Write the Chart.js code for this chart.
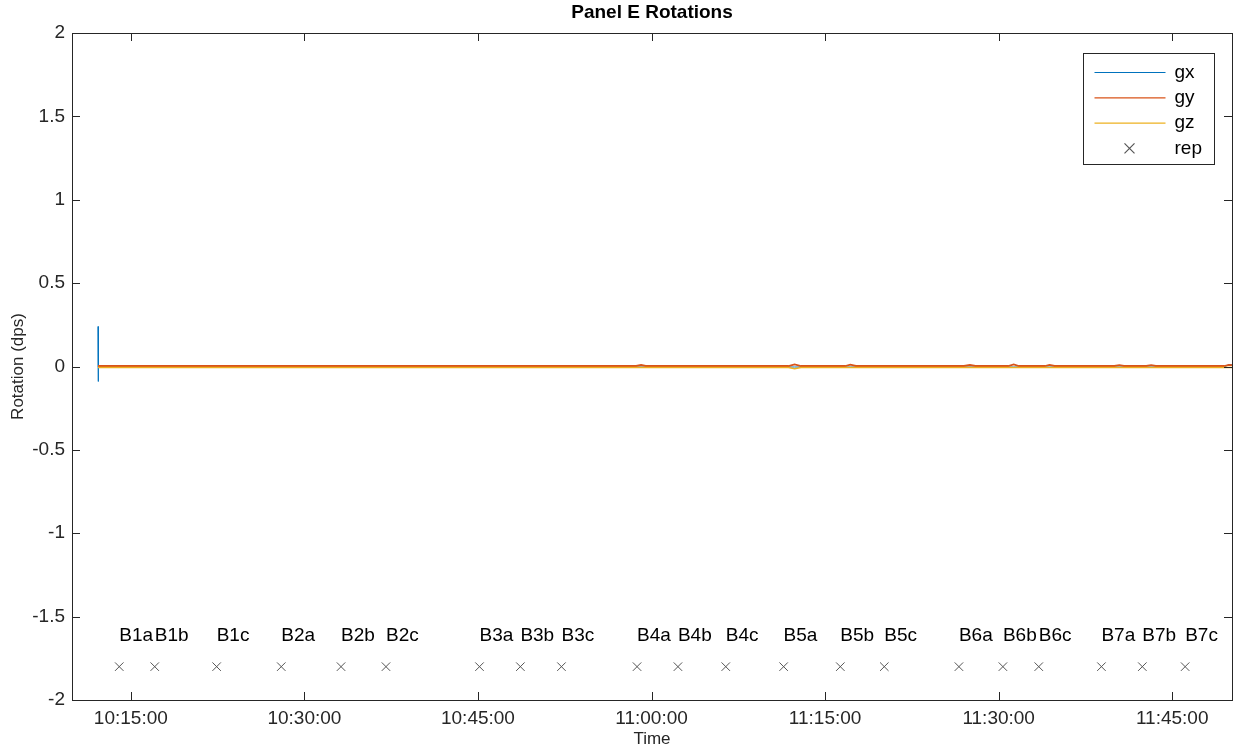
<!DOCTYPE html>
<html>
<head>
<meta charset="utf-8">
<title>Panel E Rotations</title>
<script src="https://cdn.jsdelivr.net/npm/chart.js@4.4.1/dist/chart.umd.min.js"></script>
<style>
  html, body { margin: 0; padding: 0; background: #fff; }
  canvas { display: block; }
</style>
</head>
<body>
<canvas id="rotations" width="1239" height="750"></canvas>
<script>
// gyro samples, clock time
const sampleTimes = [
  '10:12:10', '10:12:11', '10:12:12', '10:30:00', '10:50:00', '10:58:40', '10:59:06', '10:59:30',
  '11:11:50', '11:12:22', '11:12:55', '11:16:45', '11:17:11', '11:17:40', '11:27:00', '11:27:31',
  '11:28:00', '11:30:50', '11:31:18', '11:31:45', '11:34:00', '11:34:24', '11:34:50', '11:40:00',
  '11:40:26', '11:40:50', '11:42:45', '11:43:11', '11:43:35', '11:49:30', '11:49:54', '11:50:10'
];
const gx = [
  0.24, -0.09, -0.003, -0.003, -0.003, -0.003, -0.003, -0.003,
  -0.003, -0.003, -0.003, -0.003, -0.003, -0.003, -0.003, -0.003,
  -0.003, -0.003, -0.003, -0.003, -0.003, -0.003, -0.003, -0.003,
  -0.003, -0.003, -0.003, -0.003, -0.003, -0.003, 0.012, 0.01
];
const gy = [
  0.003, 0.003, 0.003, 0.003, 0.003, 0.003, 0.009, 0.003,
  0.003, 0.013, 0.003, 0.003, 0.011, 0.003, 0.003, 0.009,
  0.003, 0.003, 0.012, 0.003, 0.003, 0.01, 0.003, 0.003,
  0.008, 0.003, 0.003, 0.008, 0.003, 0.003, 0.01, 0.008
];
const gz = [
  -0.006, -0.006, -0.006, -0.006, -0.006, -0.006, -0.006, -0.006,
  -0.006, -0.013, -0.006, -0.006, -0.006, -0.006, -0.006, -0.006,
  -0.006, -0.006, -0.006, -0.006, -0.006, -0.006, -0.006, -0.006,
  -0.006, -0.006, -0.006, -0.006, -0.006, -0.006, -0.006, -0.006
];

// repetition marks
const repLabels = [
  'B1a', 'B1b', 'B1c', 'B2a', 'B2b', 'B2c', 'B3a', 'B3b', 'B3c', 'B4a', 'B4b',
  'B4c', 'B5a', 'B5b', 'B5c', 'B6a', 'B6b', 'B6c', 'B7a', 'B7b', 'B7c'
];
const repTimes = [
  '10:14:00', '10:17:04', '10:22:25', '10:28:00', '10:33:10', '10:37:03', '10:45:08',
  '10:48:40', '10:52:13', '10:58:45', '11:02:17', '11:06:25', '11:11:25', '11:16:19',
  '11:20:07', '11:26:34', '11:30:22', '11:33:28', '11:38:53', '11:42:25', '11:46:07'
];
const repLevel = -1.8;
const repTextLevel = -1.6;

const timeTicks = ['10:15:00', '10:30:00', '10:45:00', '11:00:00', '11:15:00', '11:30:00', '11:45:00'];
const rotationTicks = [-2, -1.5, -1, -0.5, 0, 0.5, 1, 1.5, 2];
const timeStart = '10:09:55';
const timeEnd = '11:50:10';

const FONT = "'Liberation Sans', Arial, Helvetica, sans-serif";
const INK = '#262626';
const colors = { gx: '#0072BD', gy: '#D95319', gz: '#EDB120', rep: '#555555' };

function toSec(s) {
  const [h, m, sec] = s.split(':').map(Number);
  return h * 3600 + m * 60 + sec;
}
function fmtTime(v) {
  const pad = n => String(n).padStart(2, '0');
  return pad(Math.floor(v / 3600)) + ':' + pad(Math.floor(v % 3600 / 60)) + ':' + pad(Math.round(v % 60));
}
const series = vals => sampleTimes.map((t, i) => ({ x: toSec(t), y: vals[i] }));

// box with inward ticks on all four sides
const boxAxes = {
  id: 'boxAxes',
  afterDraw(chart) {
    const { ctx, chartArea: a, scales: { x, y } } = chart;
    const len = 8;
    ctx.save();
    ctx.strokeStyle = INK;
    ctx.lineWidth = 1;
    ctx.beginPath();
    x.ticks.forEach(t => {
      const px = Math.round(x.getPixelForValue(t.value)) + 0.5;
      ctx.moveTo(px, a.bottom); ctx.lineTo(px, a.bottom - len);
      ctx.moveTo(px, a.top); ctx.lineTo(px, a.top + len);
    });
    y.ticks.forEach(t => {
      const py = Math.round(y.getPixelForValue(t.value)) + 0.5;
      ctx.moveTo(a.left, py); ctx.lineTo(a.left + len, py);
      ctx.moveTo(a.right, py); ctx.lineTo(a.right - len, py);
    });
    ctx.stroke();
    ctx.strokeRect(Math.round(a.left) + 0.5, Math.round(a.top) + 0.5,
      Math.round(a.right - a.left), Math.round(a.bottom - a.top));
    ctx.restore();
  }
};

// rep names written to the right of each mark
const repNames = {
  id: 'repNames',
  afterDatasetsDraw(chart) {
    const { ctx, scales: { x, y } } = chart;
    ctx.save();
    ctx.font = '19px ' + FONT;
    ctx.fillStyle = '#000';
    ctx.textAlign = 'left';
    ctx.textBaseline = 'middle';
    repLabels.forEach((name, i) => {
      ctx.fillText(name, x.getPixelForValue(toSec(repTimes[i])), y.getPixelForValue(repTextLevel) + 2);
    });
    ctx.restore();
  }
};

// title and legend box
const decorations = {
  id: 'decorations',
  afterDraw(chart) {
    const { ctx, chartArea: a } = chart;
    ctx.save();
    ctx.fillStyle = '#000';
    ctx.font = 'bold 19px ' + FONT;
    ctx.textAlign = 'center';
    ctx.textBaseline = 'alphabetic';
    ctx.fillText('Panel E Rotations', (a.left + a.right) / 2, 18);

    const bw = 131, bh = 111;
    const bx = Math.round(a.right - 18 - bw) + 0.5, by = Math.round(a.top + 20) + 0.5;
    ctx.fillStyle = '#fff';
    ctx.fillRect(bx, by, bw, bh);
    ctx.strokeStyle = INK;
    ctx.lineWidth = 1;
    ctx.strokeRect(bx, by, bw, bh);

    ctx.font = '19px ' + FONT;
    ctx.textAlign = 'left';
    ctx.textBaseline = 'middle';
    chart.data.datasets.forEach((ds, i) => {
      const ry = by + 19 + i * 25.3;
      ctx.strokeStyle = ds.borderColor;
      ctx.lineWidth = 1.2;
      ctx.beginPath();
      if (ds.showLine === false) {
        const cx = bx + 46, r = 5;
        ctx.moveTo(cx - r, ry - r); ctx.lineTo(cx + r, ry + r);
        ctx.moveTo(cx + r, ry - r); ctx.lineTo(cx - r, ry + r);
      } else {
        ctx.moveTo(bx + 11, ry); ctx.lineTo(bx + 82, ry);
      }
      ctx.stroke();
      ctx.fillStyle = '#000';
      ctx.fillText(ds.label, bx + 91, ry);
    });
    ctx.restore();
  }
};

const lineSet = (label, vals, color, order, width) => ({
  label, data: series(vals), borderColor: color, backgroundColor: color,
  borderWidth: width, pointRadius: 0, tension: 0, order
});

new Chart(document.getElementById('rotations'), {
  type: 'line',
  data: {
    datasets: [
      lineSet('gx', gx, colors.gx, 3, 1),
      lineSet('gy', gy, colors.gy, 2, 1.8),
      lineSet('gz', gz, colors.gz, 1, 1.5),
      {
        label: 'rep',
        data: repTimes.map(t => ({ x: toSec(t), y: repLevel })),
        showLine: false,
        pointStyle: 'crossRot',
        pointRadius: 6,
        borderWidth: 1,
        borderColor: colors.rep,
        backgroundColor: colors.rep,
        order: 0
      }
    ]
  },
  options: {
    responsive: false,
    animation: false,
    layout: { padding: { top: 33, right: 3, left: 0, bottom: 0 } },
    plugins: { legend: { display: false }, tooltip: { enabled: false }, title: { display: false } },
    scales: {
      x: {
        type: 'linear',
        min: toSec(timeStart),
        max: toSec(timeEnd),
        afterBuildTicks: s => { s.ticks = timeTicks.map(t => ({ value: toSec(t) })); },
        afterFit: s => { s.height = 50; s.paddingLeft = 0; s.paddingRight = 0; },
        grid: { display: false, drawTicks: false },
        border: { display: false },
        ticks: {
          padding: 7, maxRotation: 0, autoSkip: false, color: INK,
          font: { size: 19, family: FONT },
          callback: v => fmtTime(v)
        },
        title: {
          display: true, text: 'Time', color: INK,
          font: { size: 17, family: FONT }, padding: { top: 0, bottom: 0 }
        }
      },
      y: {
        min: -2,
        max: 2,
        afterBuildTicks: s => { s.ticks = rotationTicks.map(v => ({ value: v })); },
        afterFit: s => { s.width = 72; },
        grid: { display: false, drawTicks: false },
        border: { display: false },
        ticks: {
          padding: 7, color: INK,
          font: { size: 19, family: FONT },
          callback: v => String(v)
        },
        title: {
          display: true, text: 'Rotation (dps)', color: INK,
          font: { size: 17, family: FONT }, padding: { top: 8, bottom: 0 }
        }
      }
    }
  },
  plugins: [boxAxes, repNames, decorations]
});
</script>
</body>
</html>
